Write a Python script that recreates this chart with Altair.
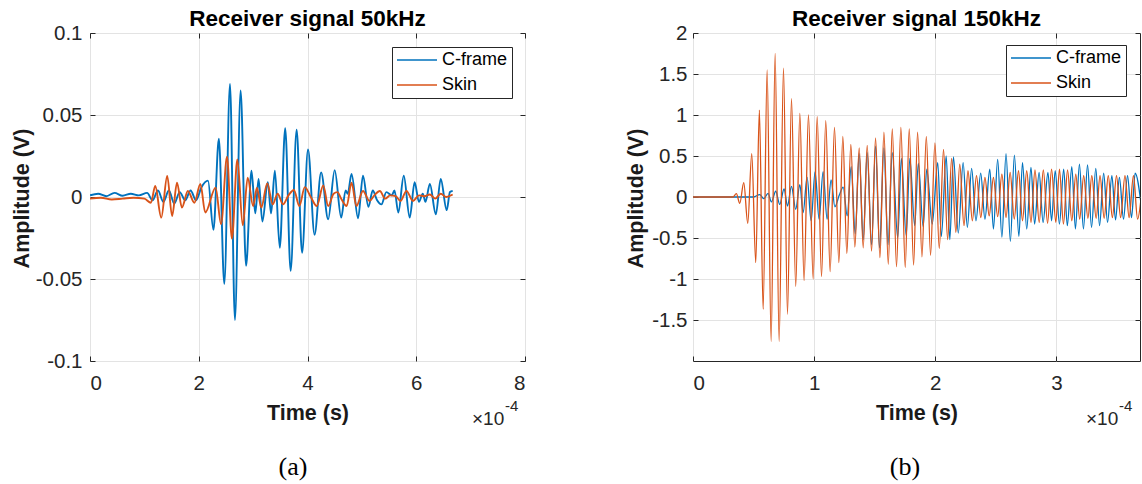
import altair as alt
import pandas as pd

# ---------------- Panel (a): Receiver signal 50kHz (time in 1e-4 s, amplitude in V)
a_cframe_t = [0.00, 0.15, 0.30, 0.45, 0.60, 0.75, 0.90, 1.05,
              1.15, 1.25, 1.35, 1.45, 1.55, 1.65, 1.75, 1.85, 1.95, 2.05,
              2.17, 2.27, 2.37, 2.47, 2.575, 2.665, 2.77, 2.87, 2.97,
              3.04, 3.10, 3.17, 3.27, 3.33, 3.40, 3.49, 3.59, 3.69,
              3.80, 3.90, 4.01, 4.13, 4.25, 4.38, 4.50, 4.62, 4.70, 4.74,
              4.81, 4.93, 5.02, 5.12, 5.20, 5.28, 5.36, 5.45, 5.55, 5.60,
              5.67, 5.77, 5.88, 5.97, 6.05, 6.12, 6.17, 6.25, 6.36, 6.45,
              6.56, 6.62, 6.67]
a_cframe_v = [0.001, 0.002, 0.0005, 0.0025, 0.0008, 0.002, 0.001, 0.0025,
              -0.002, 0.004, -0.003, 0.004, -0.004, 0.003, -0.002, 0.004, -0.002, 0.006,
              0.010, -0.020, 0.0355, -0.053, 0.069, -0.075, 0.065, -0.042, 0.016,
              -0.010, 0.011, -0.015, 0.009, -0.010, 0.016, -0.031, 0.042, -0.045,
              0.041, -0.034, 0.029, -0.023, 0.015, -0.0136, 0.0164, -0.0126, 0.004, 0.002,
              0.014, -0.013, 0.013, -0.006, 0.004, -0.002, -0.0045, 0.003, 0.001, 0.004,
              -0.0095, 0.013, -0.0126, 0.009, -0.003, 0.002, -0.003, 0.008, -0.0106, 0.011,
              -0.008, 0.003, 0.0037]

a_skin_t = [0.00, 0.20, 0.40, 0.60, 0.80, 1.00, 1.12, 1.20, 1.31, 1.42,
            1.51, 1.60, 1.69, 1.80, 1.92, 2.03, 2.12, 2.31, 2.41, 2.52,
            2.61, 2.71, 2.81, 2.90, 3.00, 3.07, 3.15, 3.26, 3.36, 3.45,
            3.55, 3.65, 3.75, 3.85, 3.95, 4.06, 4.17, 4.29, 4.38, 4.48,
            4.55, 4.62, 4.72, 4.81, 4.90, 5.02, 5.14, 5.23, 5.33, 5.43,
            5.52, 5.62, 5.71, 5.82, 5.94, 6.05, 6.15, 6.25, 6.35, 6.45,
            6.55, 6.67]
a_skin_v = [-0.001, -0.0005, -0.0015, -0.001, -0.0005, -0.001, -0.0035, 0.0067, -0.0126, 0.0128,
            -0.0116, 0.0087, -0.0065, 0.0037, -0.0035, 0.008, -0.0095, 0.0057, -0.0166, 0.0246,
            -0.0254, 0.0229, -0.0173, 0.0118, -0.0055, 0.0057, -0.0065, 0.0083, -0.0045, 0.002,
            -0.0045, 0.001, 0.0043, -0.0055, 0.006, 0.0, -0.0055, 0.007, -0.0055, 0.002,
            0.003, -0.001, -0.0055, 0.0087, -0.0055, 0.0037, -0.0024, 0.001, 0.0037, -0.001,
            0.001, 0.0005, -0.0024, 0.0037, -0.0024, 0.001, 0.0005, 0.0015, -0.001, 0.002,
            0.0, 0.0015]

# ---------------- Panel (b): Receiver signal 150kHz
b_cframe_t = [0.00, 0.50, 0.551, 0.584, 0.620, 0.647, 0.683, 0.716, 0.752, 0.780,
              0.813, 0.848, 0.882, 0.909, 0.942, 0.975, 1.008, 1.041, 1.074, 1.107,
              1.140, 1.171, 1.207, 1.240, 1.273, 1.306, 1.339, 1.372, 1.405, 1.438,
              1.474, 1.507, 1.540, 1.576, 1.610, 1.645, 1.690, 1.720, 1.760, 1.790,
              1.830, 1.860, 1.900, 1.930, 1.975, 2.020, 2.050, 2.090, 2.120, 2.150,
              2.190, 2.230, 2.265, 2.300, 2.336, 2.375, 2.410, 2.450, 2.480, 2.515,
              2.550, 2.584, 2.620, 2.653, 2.690, 2.720, 2.755, 2.790, 2.820, 2.857,
              2.890, 2.930, 2.960, 2.990, 3.025, 3.060, 3.090, 3.127, 3.157, 3.190,
              3.223, 3.257, 3.290, 3.325, 3.356, 3.390, 3.422, 3.458, 3.488, 3.520,
              3.554, 3.587, 3.620, 3.650, 3.700]
b_cframe_v = [0.0, 0.0, 0.03, -0.02, 0.045, -0.06, 0.07, -0.09, 0.10, -0.11,
              0.13, -0.15, 0.15, -0.19, 0.24, -0.29, 0.31, -0.27, 0.31, -0.27,
              0.21, -0.12, 0.02, 0.12, -0.23, 0.37, -0.45, 0.53, -0.52, 0.54,
              -0.58, 0.62, -0.62, 0.60, -0.58, 0.54, -0.50, 0.47, -0.47, 0.47,
              -0.35, 0.41, -0.36, 0.34, -0.33, 0.42, -0.48, 0.50, -0.52, 0.49,
              -0.44, 0.42, -0.37, 0.35, -0.29, 0.29, -0.27, 0.34, -0.39, 0.46,
              -0.49, 0.53, -0.54, 0.51, -0.48, 0.42, -0.39, 0.36, -0.33, 0.30,
              -0.31, 0.30, -0.29, 0.32, -0.33, 0.34, -0.35, 0.37, -0.39, 0.40,
              -0.39, 0.39, -0.37, 0.35, -0.35, 0.29, -0.31, 0.26, -0.28, 0.24,
              -0.27, 0.26, -0.25, 0.29, -0.10]

b_skin_t = [0.00, 0.33, 0.358, 0.386, 0.419, 0.452, 0.485, 0.518, 0.548, 0.579,
            0.612, 0.645, 0.678, 0.711, 0.747, 0.780, 0.813, 0.848, 0.882, 0.917,
            0.953, 0.992, 1.025, 1.061, 1.096, 1.132, 1.168, 1.204, 1.237, 1.270,
            1.303, 1.336, 1.372, 1.405, 1.438, 1.474, 1.507, 1.543, 1.576, 1.612,
            1.645, 1.680, 1.716, 1.752, 1.785, 1.821, 1.854, 1.890, 1.926, 1.961,
            1.997, 2.033, 2.068, 2.102, 2.135, 2.170, 2.202, 2.237, 2.270, 2.306,
            2.340, 2.376, 2.410, 2.445, 2.480, 2.515, 2.550, 2.584, 2.618, 2.652,
            2.687, 2.720, 2.755, 2.790, 2.823, 2.858, 2.892, 2.927, 2.960, 2.995,
            3.025, 3.058, 3.092, 3.127, 3.160, 3.192, 3.225, 3.260, 3.292, 3.328,
            3.360, 3.394, 3.428, 3.462, 3.496, 3.530, 3.566, 3.600, 3.636, 3.670,
            3.700]
b_skin_v = [0.0, 0.0, 0.04, -0.077, 0.175, -0.32, 0.53, -0.80, 1.06, -1.37,
            1.55, -1.76, 1.75, -1.76, 1.57, -1.43, 1.20, -1.09, 1.02, -1.02,
            1.0, -1.0, 0.98, -0.97, 0.93, -0.91, 0.85, -0.80, 0.74, -0.69,
            0.64, -0.61, 0.60, -0.62, 0.63, -0.66, 0.72, -0.74, 0.79, -0.82,
            0.83, -0.85, 0.85, -0.86, 0.83, -0.83, 0.79, -0.73, 0.74, -0.71,
            0.66, -0.63, 0.58, -0.52, 0.47, -0.43, 0.40, -0.35, 0.32, -0.29,
            0.26, -0.25, 0.24, -0.23, 0.24, -0.24, 0.28, -0.25, 0.30, -0.27,
            0.32, -0.29, 0.32, -0.31, 0.33, -0.31, 0.33, -0.32, 0.34, -0.31,
            0.34, -0.33, 0.33, -0.29, 0.28, -0.27, 0.26, -0.26, 0.26, -0.26,
            0.26, -0.26, 0.26, -0.25, 0.26, -0.25, 0.26, -0.25, 0.26, -0.27,
            0.0]

series_names = ["C-frame", "Skin"]
series_colors = ["#0072BD", "#D95319"]

a_xticks = [0, 2, 4, 6, 8]
a_yticks = [-0.1, -0.05, 0, 0.05, 0.1]
b_xticks = [0, 1, 2, 3]
b_yticks = [-1.5, -1, -0.5, 0, 0.5, 1, 1.5, 2]

FONT = "Liberation Sans"
AX = "#262626"
H = 328


def long_df(tc, vc, ts, vs):
    rows = [{"t": t, "amp": v, "series": series_names[0], "k": i} for i, (t, v) in enumerate(zip(tc, vc))]
    rows += [{"t": t, "amp": v, "series": series_names[1], "k": i} for i, (t, v) in enumerate(zip(ts, vs))]
    return pd.DataFrame(rows)


def panel(df, title, W, xdom, xticks, ydom, yticks, sw, legx, legy, ytx, ylabpad,
          caption, capx, expx):
    base = alt.Chart(df)
    xs = alt.Scale(domain=xdom, nice=False, zero=False)
    ys = alt.Scale(domain=ydom, nice=False, zero=False)
    cscale = alt.Scale(domain=series_names, range=series_colors)
    legend = alt.Legend(title=None, orient="none", legendX=legx, legendY=legy,
                        symbolType="stroke", symbolSize=1600, symbolStrokeWidth=1.3,
                        labelFontSize=18, labelFont=FONT, labelColor="#000",
                        strokeColor=AX, fillColor="white", padding=4, rowPadding=7,
                        clipHeight=18, labelOffset=4)
    xaxis = alt.Axis(values=xticks, title="Time (s)", grid=True, gridColor="#e3e3e3",
                     ticks=False, tickSize=0, domain=False, labelPadding=12,
                     labelFont=FONT, labelFontSize=20.5, labelColor=AX,
                     titleFont=FONT, titleFontSize=21.5, titleFontWeight="bold",
                     titleColor="#1a1a1a", titleY=52, titleBaseline="middle",
                     labelExpr="datum.value + ''")
    yaxis = alt.Axis(values=yticks, title="Amplitude (V)", grid=True, gridColor="#e3e3e3",
                     ticks=False, tickSize=0, domain=False, labelPadding=ylabpad,
                     labelFont=FONT, labelFontSize=20.5, labelColor=AX,
                     titleFont=FONT, titleFontSize=21.5, titleFontWeight="bold",
                     titleColor="#1a1a1a", titleX=ytx, titleY=H / 2 + 1,
                     titleBaseline="middle", titleAngle=270,
                     labelExpr="datum.value + ''")
    blue = base.transform_filter(alt.datum.series == series_names[0]).mark_line(
        interpolate="monotone", strokeWidth=sw, clip=True).encode(
        x=alt.X("t:Q", scale=xs, axis=xaxis),
        y=alt.Y("amp:Q", scale=ys, axis=yaxis),
        color=alt.Color("series:N", scale=cscale, legend=legend),
        order="k:Q")
    orange = base.transform_filter(alt.datum.series == series_names[1]).mark_line(
        interpolate="monotone", strokeWidth=sw, clip=True).encode(
        x=alt.X("t:Q", scale=xs, axis=None),
        y=alt.Y("amp:Q", scale=ys, axis=None),
        color=alt.Color("series:N", scale=cscale, legend=legend),
        order="k:Q")

    def tick_axis(orient, vals, off):
        return alt.Axis(orient=orient, offset=off, values=vals, labels=False, title=None,
                        grid=False, domain=False, ticks=True, tickSize=5, tickColor=AX,
                        tickWidth=1)

    ticks1 = base.mark_point(opacity=0).encode(
        x=alt.X("t:Q", scale=xs, axis=tick_axis("top", xticks, -H)),
        y=alt.Y("amp:Q", scale=ys, axis=tick_axis("right", yticks, -W)))
    ticks2 = base.mark_point(opacity=0).encode(
        x=alt.X("t:Q", scale=xs, axis=tick_axis("bottom", xticks, -H)),
        y=alt.Y("amp:Q", scale=ys, axis=tick_axis("left", yticks, -W)))

    ann = alt.Chart(pd.DataFrame({"a": [0]}))
    times = ann.mark_text(font=FONT, fontSize=19, color=AX, align="left", baseline="middle").encode(
        x=alt.value(expx), y=alt.value(386), text=alt.value("\u00d710"))
    sup = ann.mark_text(font=FONT, fontSize=15, color=AX, align="left", baseline="middle").encode(
        x=alt.value(expx + 33), y=alt.value(373), text=alt.value("-4"))
    cap = ann.mark_text(font="Liberation Serif", fontSize=26, color="#000", align="center",
                        baseline="middle").encode(
        x=alt.value(capx), y=alt.value(434), text=alt.value(caption))

    return alt.layer(ticks1, ticks2, blue, orange, times, sup, cap).resolve_axis(
        x="independent", y="independent").properties(
        width=W, height=H,
        title=alt.TitleParams(title, font=FONT, fontSize=22.5, fontWeight="bold", color="#000",
                              anchor="middle", frame="group", offset=6, dy=13))


dfa = long_df(a_cframe_t, a_cframe_v, a_skin_t, a_skin_v)
dfb = long_df(b_cframe_t, b_cframe_v, b_skin_t, b_skin_v)

pa = panel(dfa, "Receiver signal 50kHz", 435, [0, 8], a_xticks, [-0.1, 0.1], a_yticks, 1.9,
           302, 14, -68, 8, "(a)", 203, 382)
pb = panel(dfb, "Receiver signal 150kHz", 447, [0, 3.69], b_xticks, [-2, 2], b_yticks, 1.3,
           313, 12, -57, 6, "(b)", 212, 393)

chart = alt.hconcat(pa, pb, spacing=168, bounds="flush").resolve_scale(
    color="independent").properties(
    autosize=alt.AutoSizeParams(type="none"),
    padding={"left": 90, "top": 33, "right": 1052, "bottom": 451},
    background="white").configure_view(stroke=AX, strokeWidth=1)

chart.save("out.html", embed_options={"renderer": "svg", "actions": False})
